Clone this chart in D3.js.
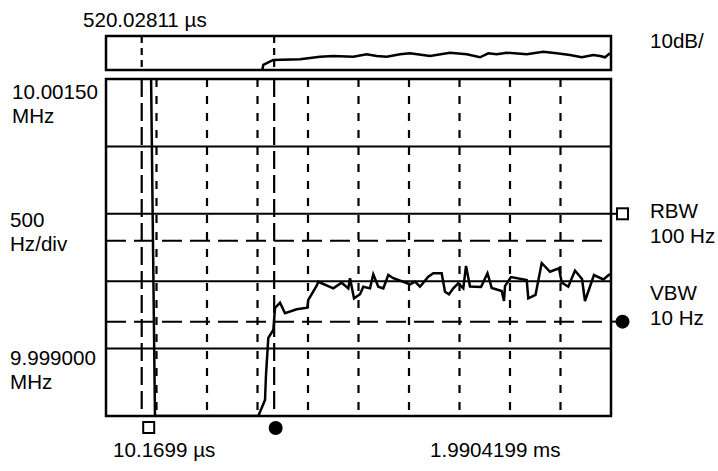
<!DOCTYPE html>
<html>
<head>
<meta charset="utf-8">
<title>Spectrum trace</title>
<script src="https://cdn.jsdelivr.net/npm/d3@7/dist/d3.min.js"></script>
<style>
body { margin: 0; background: #fff; }
text { font-family: "Liberation Sans", Arial, sans-serif; font-size: 20.6px; fill: #000; }
</style>
</head>
<body>
<script>
// main trace: x in divisions (0..10), y in Hz from 10 MHz
var traceX = [0.89, 0.97, 3.016, 3.149, 3.168, 3.214, 3.313, 3.347, 3.446, 3.545, 3.776, 3.986, 4.006, 4.172, 4.204,
  4.501, 4.667, 4.798, 4.832, 4.911, 5.030, 5.095, 5.228, 5.293, 5.392, 5.491, 5.590, 5.689, 6.020, 6.119, 6.218,
  6.382, 6.481, 6.647, 6.713, 6.792, 6.877, 6.976, 7.075, 7.129, 7.208, 7.426, 7.554, 7.638, 7.836, 7.881, 7.901,
  8.020, 8.331, 8.362, 8.505, 8.628, 8.792, 8.970, 9.024, 9.154, 9.287, 9.426, 9.485, 9.663, 9.848, 9.980];
var traceY = [1600, -1000, -1000, -881, -696, -421, -362, -199, -159, -238, -208, -197, -139, -33, -4,
  -53, -11, -53, 22, -127, -97, -41, -53, 51, -41, -53, 46, 22, -23, -4, -41,
  33, 59, 59, -78, -97, -53, -16, -53, 113, -39, -43, 59, -50, -73, -147, -36,
  31, 9, -127, -102, 135, 70, 96, -10, -41, 79, 16, -147, 46, 13, 53];

// top strip trace (dB)
var topX = [3.095, 3.115, 3.313, 3.842, 4.238, 4.501, 4.897, 5.162, 5.360, 5.558, 5.822, 6.020, 6.416, 6.812,
  7.143, 7.406, 7.570, 7.737, 7.935, 8.331, 8.659, 8.925, 9.188, 9.420, 9.650, 9.782, 9.881, 9.980];
var topY = [-50, -42.6, -35.3, -34.3, -30.4, -29.4, -30.4, -26.9, -29.4, -30.4, -26.9, -25.4, -29.4, -24.6,
  -26.9, -31.3, -25.4, -26.9, -24.6, -26.9, -23.1, -25.4, -27.9, -31.3, -27.9, -29.4, -31.3, -25.4];

var gridHz = [-500, 0, 500, 1000];
var levelHz = [300, -300];
var markerDiv = [0.707, 3.33];

var width = 718, height = 471;
var x = d3.scaleLinear().domain([0, 10]).range([106, 611]);
var y = d3.scaleLinear().domain([-1000, 1500]).range([416, 79]);
var yTop = d3.scaleLinear().domain([-50, 0]).range([70, 36]);

var svg = d3.select("body").append("svg").attr("width", width).attr("height", height);

svg.append("clipPath").attr("id", "mainclip")
  .append("rect").attr("x", x(0)).attr("y", y(1500)).attr("width", x(10) - x(0)).attr("height", y(-1000) - y(1500));

// dotted vertical divisions
svg.selectAll(".vgrid").data(d3.range(1, 10)).enter().append("line")
  .attr("x1", d => x(d)).attr("x2", d => x(d))
  .attr("y1", y(1500)).attr("y2", y(-1000))
  .attr("stroke", "#000").attr("stroke-width", 2.2).attr("stroke-dasharray", "8,9");

// solid horizontal divisions
svg.selectAll(".hgrid").data(gridHz).enter().append("line")
  .attr("x1", x(0)).attr("x2", x(10))
  .attr("y1", d => y(d)).attr("y2", d => y(d))
  .attr("stroke", "#000").attr("stroke-width", 2);

// dashed level lines
svg.selectAll(".level").data(levelHz).enter().append("line")
  .attr("x1", x(0)).attr("x2", x(10))
  .attr("y1", d => y(d)).attr("y2", d => y(d))
  .attr("stroke", "#000").attr("stroke-width", 2).attr("stroke-dasharray", "20,8");

// marker lines, main panel and top strip
svg.selectAll(".mline").data(markerDiv).enter().append("line")
  .attr("x1", d => x(d)).attr("x2", d => x(d))
  .attr("y1", y(1500)).attr("y2", y(-1000))
  .attr("stroke", "#000").attr("stroke-width", 2.2).attr("stroke-dasharray", "18,6");
svg.selectAll(".mtop").data(markerDiv).enter().append("line")
  .attr("x1", d => x(d)).attr("x2", d => x(d))
  .attr("y1", yTop(0)).attr("y2", yTop(-50))
  .attr("stroke", "#000").attr("stroke-width", 2.2).attr("stroke-dasharray", "7,5");

// traces
var line = d3.line().x(d => x(d[0])).y(d => y(d[1]));
svg.append("path").datum(d3.zip(traceX, traceY))
  .attr("d", line).attr("fill", "none").attr("stroke", "#000").attr("stroke-width", 2.5)
  .attr("stroke-linejoin", "miter").attr("clip-path", "url(#mainclip)");

var lineTop = d3.line().x(d => x(d[0])).y(d => yTop(d[1]));
svg.append("path").datum(d3.zip(topX, topY))
  .attr("d", lineTop).attr("fill", "none").attr("stroke", "#000").attr("stroke-width", 2.5);

// frames
svg.append("rect").attr("x", x(0)).attr("y", yTop(0)).attr("width", x(10) - x(0)).attr("height", yTop(-50) - yTop(0))
  .attr("fill", "none").attr("stroke", "#000").attr("stroke-width", 2.5);
svg.append("rect").attr("x", x(0)).attr("y", y(1500)).attr("width", x(10) - x(0)).attr("height", y(-1000) - y(1500))
  .attr("fill", "none").attr("stroke", "#000").attr("stroke-width", 2.5);

// markers: square and dot below, and at the right edge
svg.append("rect").attr("x", x(markerDiv[0]) + 1.5).attr("y", 422).attr("width", 11).attr("height", 11)
  .attr("fill", "#fff").attr("stroke", "#000").attr("stroke-width", 2);
svg.append("circle").attr("cx", x(markerDiv[1]) + 1.5).attr("cy", 428).attr("r", 7).attr("fill", "#000");
svg.append("line").attr("x1", x(10)).attr("x2", 617).attr("y1", y(500)).attr("y2", y(500))
  .attr("stroke", "#000").attr("stroke-width", 2);
svg.append("rect").attr("x", 617).attr("y", y(500) - 5.5).attr("width", 11).attr("height", 11)
  .attr("fill", "#fff").attr("stroke", "#000").attr("stroke-width", 2);
svg.append("line").attr("x1", x(10)).attr("x2", 616).attr("y1", y(-300)).attr("y2", y(-300))
  .attr("stroke", "#000").attr("stroke-width", 2);
svg.append("circle").attr("cx", 622.5).attr("cy", y(-300)).attr("r", 7).attr("fill", "#000");

// labels
var labels = [
  ["520.02811 \u00b5s", 83, 27],
  ["10dB/", 650, 48],
  ["10.00150", 12, 99], ["MHz", 12, 123],
  ["500", 10, 227], ["Hz/div", 10, 251],
  ["9.999000", 10, 365], ["MHz", 10, 389],
  ["10.1699 \u00b5s", 113, 457],
  ["1.9904199 ms", 430, 457],
  ["RBW", 650, 218], ["100 Hz", 650, 243],
  ["VBW", 650, 300], ["10 Hz", 650, 325]
];
svg.selectAll(".lbl").data(labels).enter().append("text")
  .attr("x", d => d[1]).attr("y", d => d[2]).text(d => d[0]);
</script>
</body>
</html>
